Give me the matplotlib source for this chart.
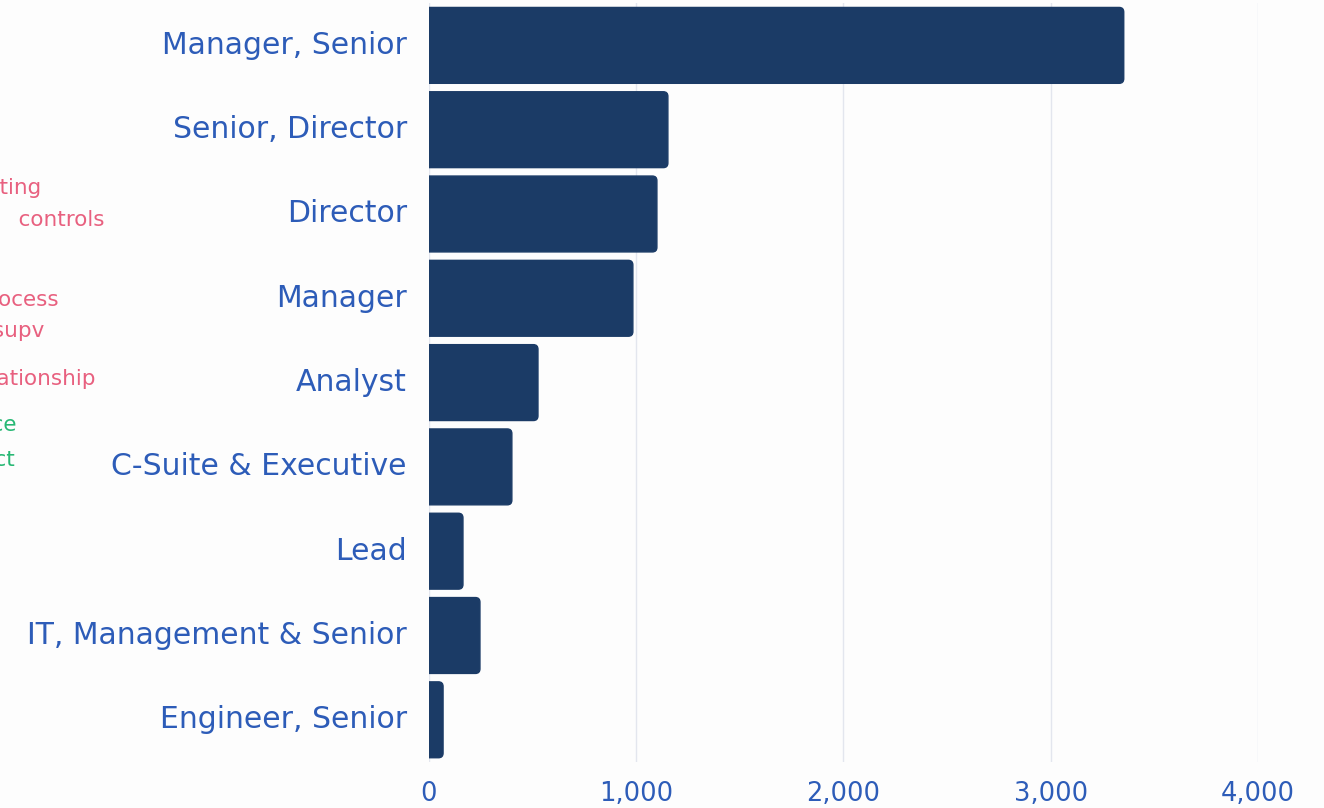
import matplotlib.pyplot as plt
from matplotlib.patches import FancyBboxPatch

roles = ["Manager, Senior", "Senior, Director", "Director", "Manager", "Analyst",
         "C-Suite & Executive", "Lead", "IT, Management & Senior", "Engineer, Senior"]
counts = [3353, 1153, 1100, 984, 526, 400, 164, 246, 68]
xticks = [0, 1000, 2000, 3000, 4000]

# cut-off labels of a neighbouring chart at the left edge
side_labels = ["Accounting", "Internal    controls", "Business process", "Team supv",
               "Client relationship", "Compliance", "Contract"]
side_colors = ["#e8607f"] * 5 + ["#27b874"] * 2

bar_color = "#1b3b66"
text_color = "#2d5cb8"

plt.rcParams["font.family"] = ["DejaVu Sans"]

fig = plt.figure(figsize=(13.24, 8.08), dpi=100, facecolor="#fdfdfd")
ax = fig.add_axes([0.324, 0.057, 0.626, 0.939])
ax.set_facecolor("#fdfdfd")

ypos = list(range(len(roles)))
bars = ax.barh(ypos, counts, height=0.9, color=bar_color, zorder=2)
# swap plain rectangles for ones rounded on the right end
# (box starts left of 0 so the clipped left end stays square)
for b in bars:
    b.set_visible(False)
    ax.add_patch(FancyBboxPatch((b.get_x() - 40, b.get_y()), b.get_width() + 40, b.get_height(),
                                boxstyle="round,pad=0,rounding_size=22",
                                mutation_aspect=0.0025, color=bar_color, zorder=2))
ax.set_ylim(len(roles) - 0.5, -0.5)
ax.set_xlim(0, 4000)

ax.set_yticks(ypos)
ax.set_yticklabels(roles)
ax.set_xticks(xticks)
ax.set_xticklabels([f"{v:,}" for v in xticks])
ax.tick_params(axis="y", length=0, pad=16, labelsize=21.5, labelcolor=text_color)
ax.tick_params(axis="x", length=0, pad=14, labelsize=18.5, labelcolor=text_color)
for lab in ax.get_yticklabels():
    lab.set_va("center")
ax.grid(axis="x", color="#e3e6ee", linewidth=1, zorder=0)
for s in ax.spines.values():
    s.set_visible(False)

# fragments on the left edge
side_x = [42, 104, 59, 44, 95, 17, 15]
side_y = [188, 220, 300, 331, 379, 425, 460]
for lab, c, x, y in zip(side_labels, side_colors, side_x, side_y):
    fig.text(x / 1324, 1 - y / 808, lab, color=c, fontsize=15.5,
             ha="right", va="center")

fig.savefig("out.png", dpi=100, facecolor=fig.get_facecolor())
